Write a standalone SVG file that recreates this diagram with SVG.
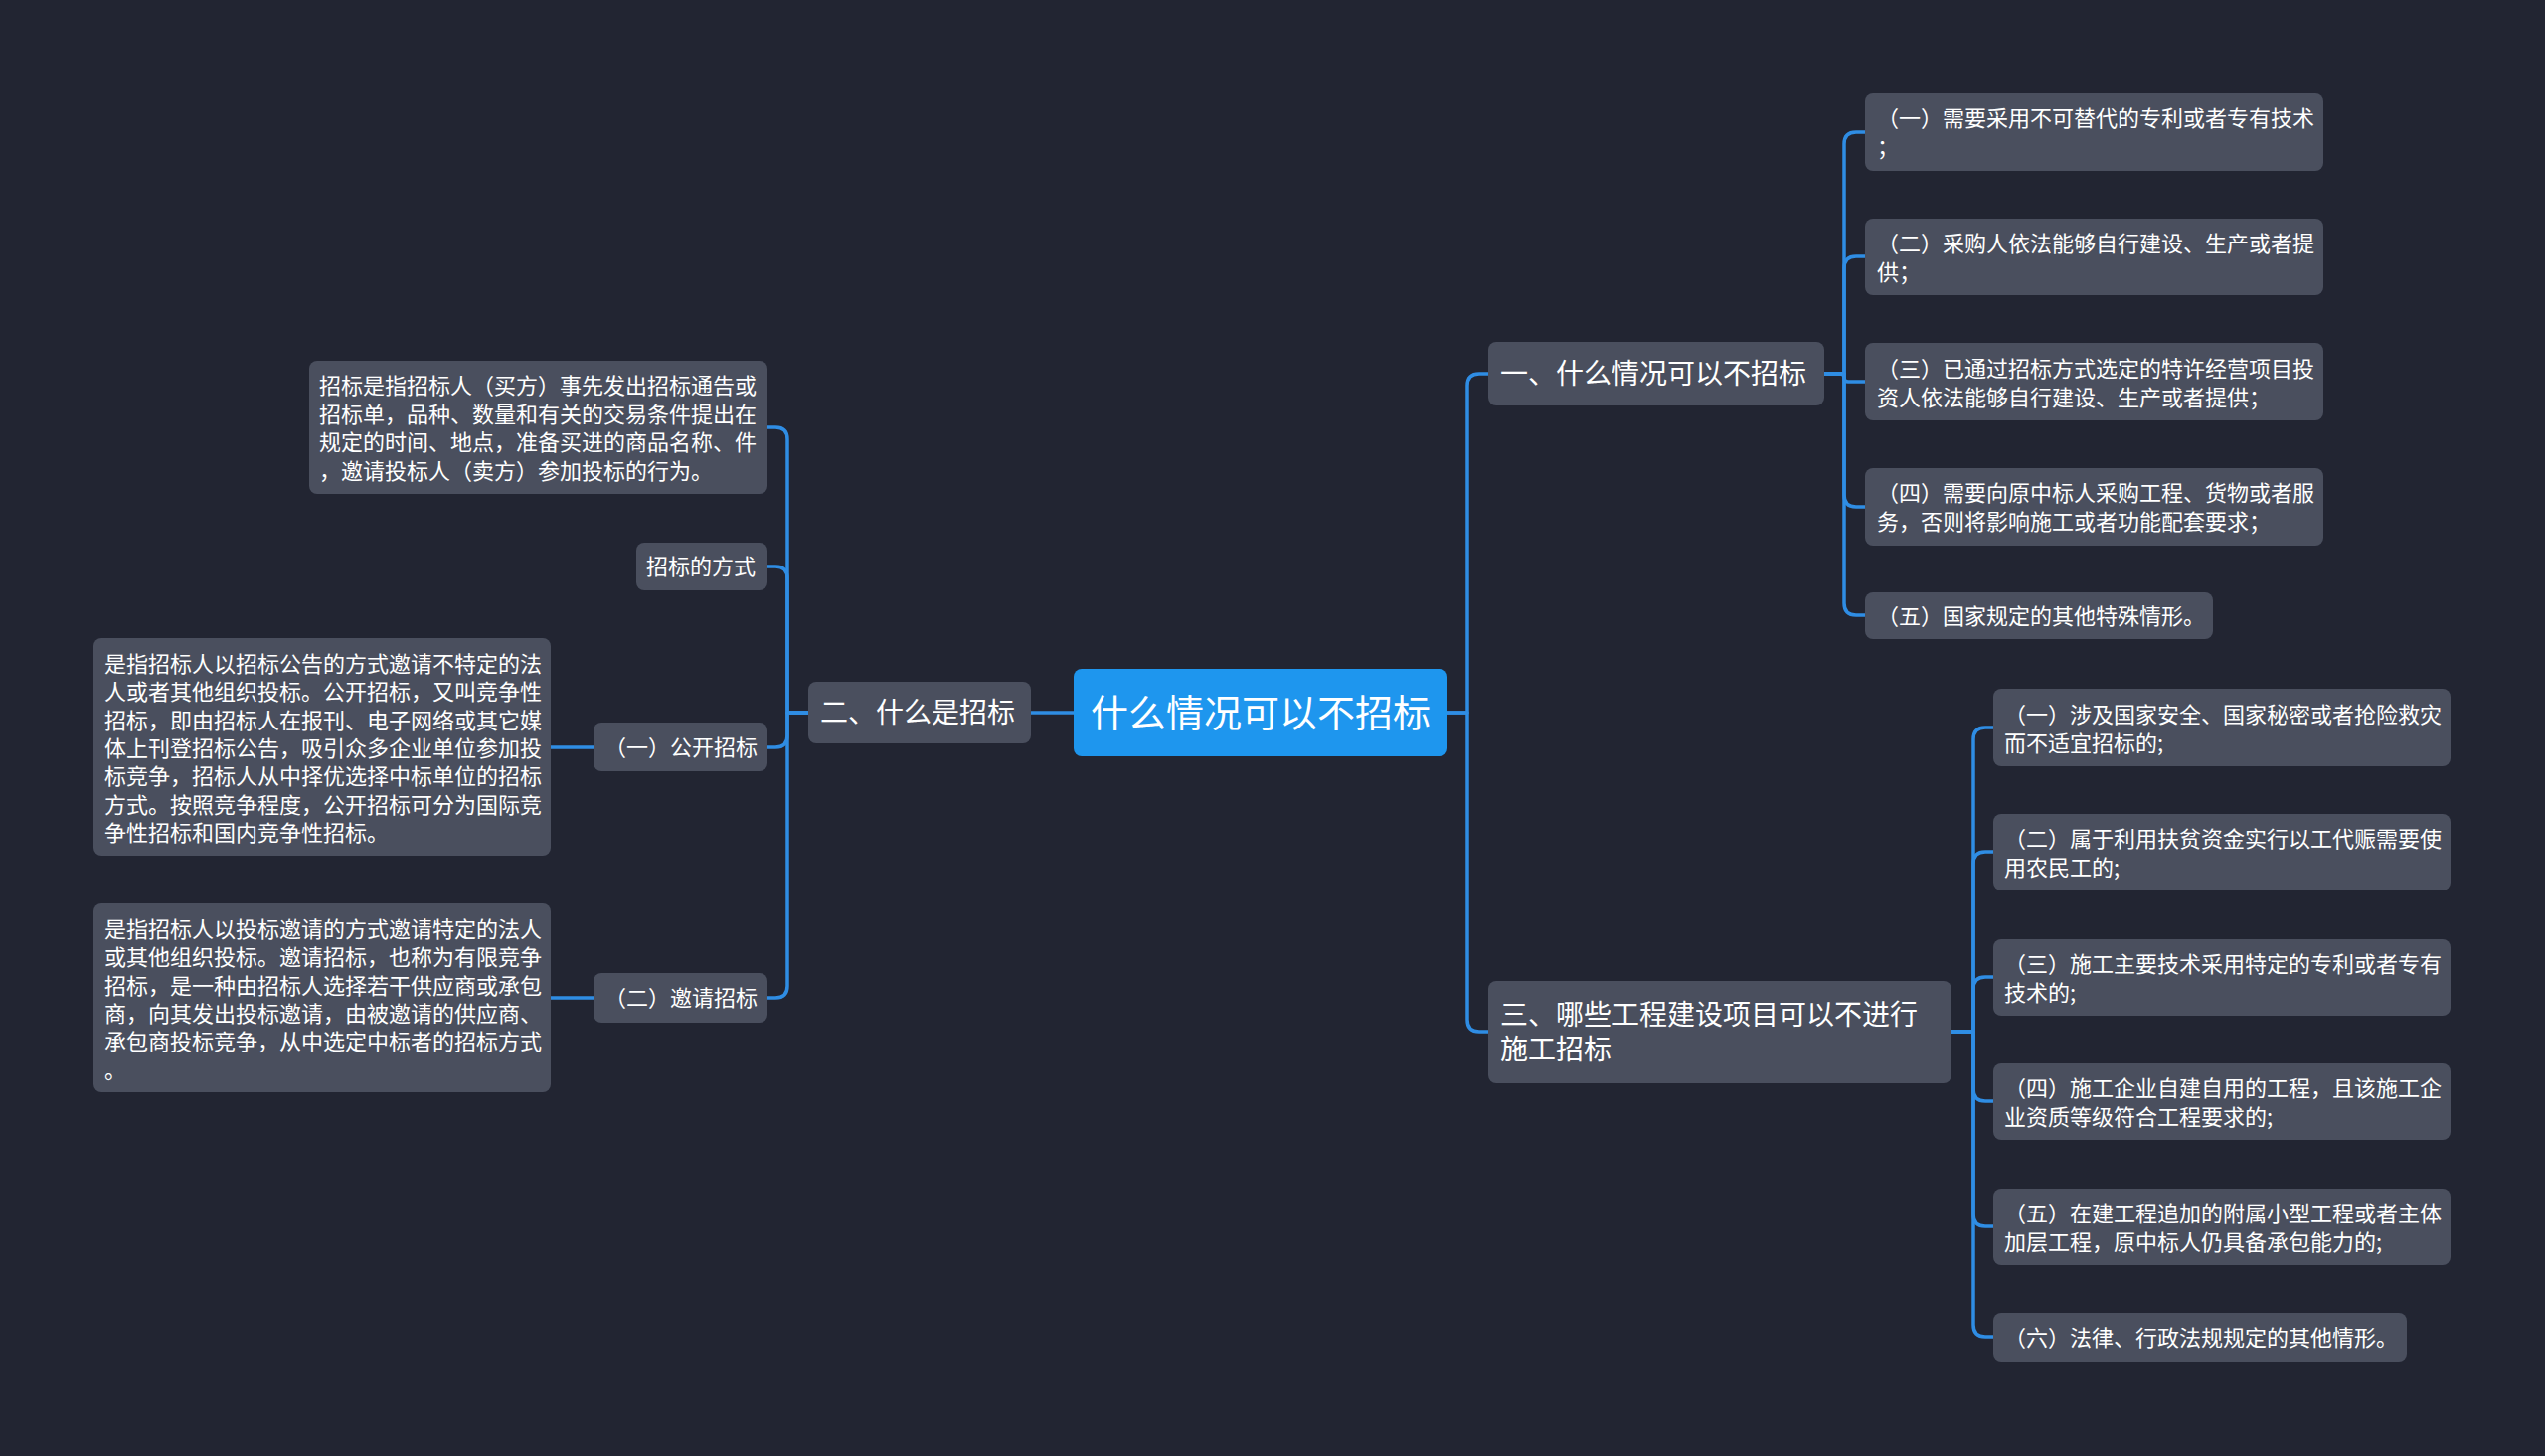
<svg xmlns="http://www.w3.org/2000/svg" width="2560" height="1465" viewBox="0 0 2560 1465">
<defs>
<style>
.bg{fill:#222532}
.n{fill:#4A4F5E}
.c{fill:#1E96EE}
text{font-family:"Noto Sans CJK SC","Noto Sans",sans-serif;fill:#FFFFFF}
.t22{font-size:22px}
.t28{font-size:28px}
.t36{font-size:38px}
.ln{fill:none;stroke:#2F8DE4;stroke-width:3.5;stroke-linecap:round;stroke-linejoin:round}
</style>
</defs>
<rect class="bg" x="0" y="0" width="2560" height="1465"/>

<g id="connectors">
<path class="ln" d="M1456,717 H1476 V388 Q1476,376 1488,376 H1497"/>
<path class="ln" d="M1456,717 H1476 V1026 Q1476,1038 1488,1038 H1497"/>
<path class="ln" d="M1080,717 H1037"/>

<path class="ln" d="M1835,376 H1855 V145 Q1855,133 1867,133 H1876"/>
<path class="ln" d="M1835,376 H1855 V270 Q1855,258 1867,258 H1876"/>
<path class="ln" d="M1835,376 H1851 Q1855,376 1855,380 Q1855,384 1859,384 H1876"/>
<path class="ln" d="M1835,376 H1855 V498 Q1855,510 1867,510 H1876"/>
<path class="ln" d="M1835,376 H1855 V607 Q1855,619 1867,619 H1876"/>

<path class="ln" d="M1963,1038 H1985 V744 Q1985,732 1997,732 H2005"/>
<path class="ln" d="M1963,1038 H1985 V869 Q1985,857 1997,857 H2005"/>
<path class="ln" d="M1963,1038 H1985 V995 Q1985,983 1997,983 H2005"/>
<path class="ln" d="M1963,1038 H1985 V1096 Q1985,1108 1997,1108 H2005"/>
<path class="ln" d="M1963,1038 H1985 V1222 Q1985,1234 1997,1234 H2005"/>
<path class="ln" d="M1963,1038 H1985 V1333 Q1985,1345 1997,1345 H2005"/>

<path class="ln" d="M813,717 H792 V442 Q792,430 780,430 H772"/>
<path class="ln" d="M813,717 H792 V582 Q792,570 780,570 H772"/>
<path class="ln" d="M813,717 H792 V740 Q792,752 780,752 H772"/>
<path class="ln" d="M813,717 H792 V992 Q792,1004 780,1004 H772"/>
<path class="ln" d="M597,752 H554"/>
<path class="ln" d="M597,1004 H554"/>
</g>

<g id="root">
<rect class="c" x="1080" y="673" width="376" height="88" rx="8"/>
<text class="t36" x="1268" y="731" text-anchor="middle">什么情况可以不招标</text>
</g>

<g id="n1">
<rect class="n" x="1497" y="344" width="338" height="64" rx="8"/>
<text class="t28" x="1509" y="386">一、什么情况可以不招标</text>
</g>
<g id="n1-1">
<rect class="n" x="1876" y="94" width="461" height="78" rx="8"/>
<text class="t22" x="1888" y="127">（一）需要采用不可替代的专利或者专有技术</text>
<text class="t22" x="1888" y="156">；</text>
</g>
<g id="n1-2">
<rect class="n" x="1876" y="220" width="461" height="77" rx="8"/>
<text class="t22" x="1888" y="253">（二）采购人依法能够自行建设、生产或者提</text>
<text class="t22" x="1888" y="282">供；</text>
</g>
<g id="n1-3">
<rect class="n" x="1876" y="345" width="461" height="78" rx="8"/>
<text class="t22" x="1888" y="379">（三）已通过招标方式选定的特许经营项目投</text>
<text class="t22" x="1888" y="408">资人依法能够自行建设、生产或者提供；</text>
</g>
<g id="n1-4">
<rect class="n" x="1876" y="471" width="461" height="78" rx="8"/>
<text class="t22" x="1888" y="504">（四）需要向原中标人采购工程、货物或者服</text>
<text class="t22" x="1888" y="533">务，否则将影响施工或者功能配套要求；</text>
</g>
<g id="n1-5">
<rect class="n" x="1876" y="596" width="350" height="47" rx="8"/>
<text class="t22" x="1888" y="628">（五）国家规定的其他特殊情形。</text>
</g>

<g id="n3">
<rect class="n" x="1497" y="987" width="466" height="103" rx="8"/>
<text class="t28" x="1509" y="1031">三、哪些工程建设项目可以不进行</text>
<text class="t28" x="1509" y="1066">施工招标</text>
</g>
<g id="n3-1">
<rect class="n" x="2005" y="693" width="460" height="78" rx="8"/>
<text class="t22" x="2016" y="727">（一）涉及国家安全、国家秘密或者抢险救灾</text>
<text class="t22" x="2016" y="756">而不适宜招标的;</text>
</g>
<g id="n3-2">
<rect class="n" x="2005" y="819" width="460" height="77" rx="8"/>
<text class="t22" x="2016" y="852">（二）属于利用扶贫资金实行以工代赈需要使</text>
<text class="t22" x="2016" y="881">用农民工的;</text>
</g>
<g id="n3-3">
<rect class="n" x="2005" y="945" width="460" height="77" rx="8"/>
<text class="t22" x="2016" y="978">（三）施工主要技术采用特定的专利或者专有</text>
<text class="t22" x="2016" y="1007">技术的;</text>
</g>
<g id="n3-4">
<rect class="n" x="2005" y="1070" width="460" height="77" rx="8"/>
<text class="t22" x="2016" y="1103">（四）施工企业自建自用的工程，且该施工企</text>
<text class="t22" x="2016" y="1132">业资质等级符合工程要求的;</text>
</g>
<g id="n3-5">
<rect class="n" x="2005" y="1196" width="460" height="77" rx="8"/>
<text class="t22" x="2016" y="1229">（五）在建工程追加的附属小型工程或者主体</text>
<text class="t22" x="2016" y="1258">加层工程，原中标人仍具备承包能力的;</text>
</g>
<g id="n3-6">
<rect class="n" x="2005" y="1321" width="416" height="49" rx="8"/>
<text class="t22" x="2016" y="1354">（六）法律、行政法规规定的其他情形。</text>
</g>

<g id="n2">
<rect class="n" x="813" y="686" width="224" height="62" rx="8"/>
<text class="t28" x="825" y="727">二、什么是招标</text>
</g>
<g id="n2-1">
<rect class="n" x="311" y="363" width="461" height="134" rx="8"/>
<text class="t22" x="321" y="396">招标是指招标人（买方）事先发出招标通告或</text>
<text class="t22" x="321" y="424.5">招标单，品种、数量和有关的交易条件提出在</text>
<text class="t22" x="321" y="453">规定的时间、地点，准备买进的商品名称、件</text>
<text class="t22" x="321" y="481.5">，邀请投标人（卖方）参加投标的行为。</text>
</g>
<g id="n2-2">
<rect class="n" x="640" y="546" width="132" height="48" rx="8"/>
<text class="t22" x="650" y="578">招标的方式</text>
</g>
<g id="n2-3">
<rect class="n" x="597" y="727" width="175" height="49" rx="8"/>
<text class="t22" x="608" y="760">（一）公开招标</text>
</g>
<g id="n2-3-1">
<rect class="n" x="94" y="642" width="460" height="219" rx="8"/>
<text class="t22" x="105" y="676">是指招标人以招标公告的方式邀请不特定的法</text>
<text class="t22" x="105" y="704.3">人或者其他组织投标。公开招标，又叫竞争性</text>
<text class="t22" x="105" y="732.7">招标，即由招标人在报刊、电子网络或其它媒</text>
<text class="t22" x="105" y="761">体上刊登招标公告，吸引众多企业单位参加投</text>
<text class="t22" x="105" y="789.3">标竞争，招标人从中择优选择中标单位的招标</text>
<text class="t22" x="105" y="817.7">方式。按照竞争程度，公开招标可分为国际竞</text>
<text class="t22" x="105" y="846">争性招标和国内竞争性招标。</text>
</g>
<g id="n2-4">
<rect class="n" x="597" y="979" width="175" height="50" rx="8"/>
<text class="t22" x="608" y="1012">（二）邀请招标</text>
</g>
<g id="n2-4-1">
<rect class="n" x="94" y="909" width="460" height="190" rx="8"/>
<text class="t22" x="105" y="943">是指招标人以投标邀请的方式邀请特定的法人</text>
<text class="t22" x="105" y="971.3">或其他组织投标。邀请招标，也称为有限竞争</text>
<text class="t22" x="105" y="999.7">招标，是一种由招标人选择若干供应商或承包</text>
<text class="t22" x="105" y="1028">商，向其发出投标邀请，由被邀请的供应商、</text>
<text class="t22" x="105" y="1056.3">承包商投标竞争，从中选定中标者的招标方式</text>
<text class="t22" x="105" y="1084.7">。</text>
</g>
</svg>
